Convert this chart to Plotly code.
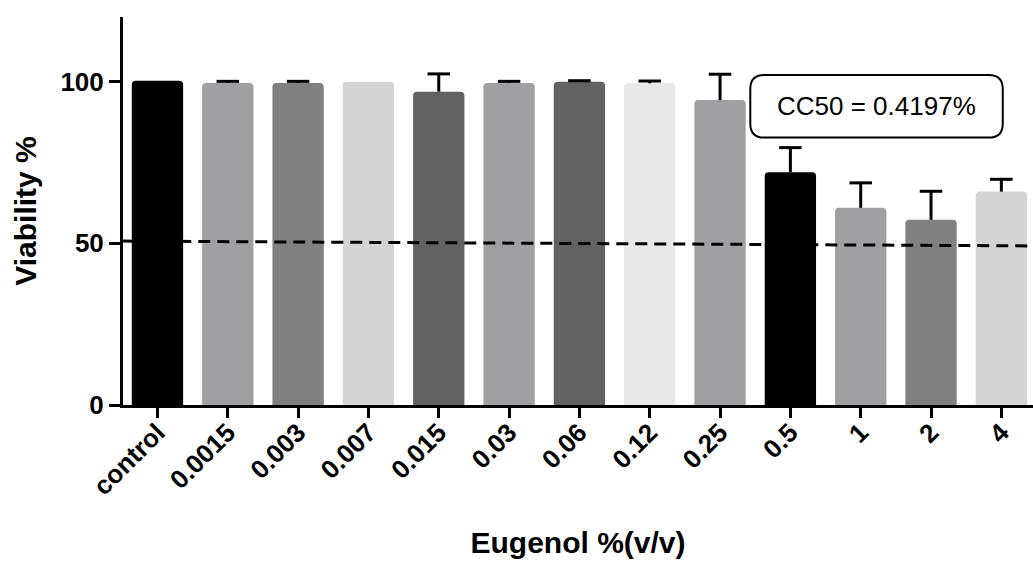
import plotly.graph_objects as go

categories = ["control", "0.0015", "0.003", "0.007", "0.015", "0.03", "0.06",
              "0.12", "0.25", "0.5", "1", "2", "4"]
viability = [100.3, 99.6, 99.6, 100.0, 96.9, 99.6, 100.0, 99.5, 94.3, 72.0, 61.0, 57.3, 66.0]
sd_upper = [0.0, 0.5, 0.5, 0.0, 5.5, 0.5, 0.3, 0.7, 8.0, 7.6, 7.7, 8.8, 3.8]
bar_colors = ["#000000", "#a0a0a4", "#808080", "#d4d4d4", "#626262", "#a0a0a4", "#626262",
              "#e8e8e8", "#a0a0a4", "#000000", "#a0a0a4", "#808080", "#d4d4d4"]
ref_line_x = [-0.5, 12.45]
ref_line_y = [50.7, 49.2]
y_ticks = [0, 50, 100]
cc50_text = "CC50 = 0.4197%"

FONT = "Arial, Liberation Sans, sans-serif"
CAP = 0.16  # half cap width in category units

xs = list(range(len(categories)))

fig = go.Figure()
fig.add_trace(go.Bar(
    x=xs, y=viability, width=0.73,
    marker=dict(color=bar_colors, line=dict(width=0), cornerradius=4),
    showlegend=False, hoverinfo="skip",
))

# upward-only error bars (stem + top cap), built from the data arrays
ex, ey = [], []
for xi, v, s in zip(xs, viability, sd_upper):
    if s <= 0:
        continue
    top = v + s
    ex += [xi, xi, None, xi - CAP, xi + CAP, None]
    ey += [v, top, None, top, top, None]
fig.add_trace(go.Scatter(
    x=ex, y=ey, mode="lines", line=dict(color="black", width=3),
    showlegend=False, hoverinfo="skip",
))

fig.add_trace(go.Scatter(
    x=ref_line_x, y=ref_line_y, mode="lines",
    line=dict(color="black", width=3, dash="12px,7px"),
    showlegend=False, hoverinfo="skip",
))

# rounded box for CC50 label
x0, x1, y0, y1 = 8.43, 12.02, 82.7, 102.1
rx, ry = 0.2, 4.3
path = (f"M {x0+rx},{y0} L {x1-rx},{y0} Q {x1},{y0} {x1},{y0+ry} "
        f"L {x1},{y1-ry} Q {x1},{y1} {x1-rx},{y1} L {x0+rx},{y1} "
        f"Q {x0},{y1} {x0},{y1-ry} L {x0},{y0+ry} Q {x0},{y0} {x0+rx},{y0} Z")
fig.add_shape(type="path", path=path, line=dict(color="black", width=2),
              fillcolor="white", layer="above")
fig.add_annotation(x=(x0 + x1) / 2, y=(y0 + y1) / 2, text=cc50_text,
                   showarrow=False, font=dict(family=FONT, size=26, color="black"))

fig.update_layout(
    width=1033, height=561,
    margin=dict(l=123, r=0, t=17, b=156),
    plot_bgcolor="white", paper_bgcolor="white",
    font=dict(family=FONT, color="black"),
)
fig.update_xaxes(
    range=[-0.49, 12.45], tickmode="array",
    tickvals=xs, ticktext=categories,
    tickangle=-45, tickfont=dict(family=FONT, size=26, weight="bold"),
    ticklabelstandoff=-11,
    showline=True, linecolor="black", linewidth=3,
    ticks="outside", ticklen=10, tickwidth=3, tickcolor="black",
    showgrid=False, zeroline=False,
    title=dict(text="Eugenol %(v/v)", font=dict(family=FONT, size=30, weight="bold"),
               standoff=33),
)
fig.update_yaxes(
    range=[0, 120], tickmode="array", tickvals=y_ticks,
    tickfont=dict(family=FONT, size=26, weight="bold"),
    showline=True, linecolor="black", linewidth=3,
    ticks="outside", ticklen=11, tickwidth=3, tickcolor="black",
    showgrid=False, zeroline=False,
    title=dict(text="Viability %", font=dict(family=FONT, size=30, weight="bold"),
               standoff=15),
)

fig.write_html("out.html", config={"displayModeBar": False},
               post_script="document.body.style.margin='0';document.body.style.overflow='hidden';")
